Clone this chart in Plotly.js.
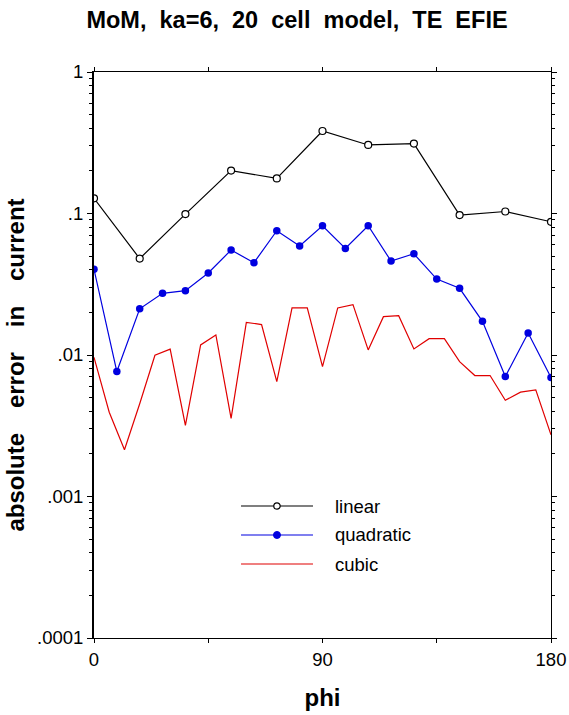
<!DOCTYPE html>
<html>
<head>
<meta charset="utf-8">
<script src="https://cdn.plot.ly/plotly-3.0.1.min.js"></script>
<style>html,body{margin:0;padding:0;background:#fff;}#chart{width:569px;height:715px;}</style>
</head>
<body>
<div id="chart"></div>
<script>
// ---- data ----
const phiLinear = [0, 18, 36, 54, 72, 90, 108, 126, 144, 162, 180];
const errLinear = [0.128, 0.048, 0.099, 0.201, 0.177, 0.383, 0.305, 0.312, 0.0974, 0.1033, 0.0874];

const phiQuadratic = [0, 9, 18, 27, 36, 45, 54, 63, 72, 81, 90, 99, 108, 117, 126, 135, 144, 153, 162, 171, 180];
const errQuadratic = [0.0403, 0.00764, 0.0212, 0.0273, 0.0285, 0.038, 0.0552, 0.0449, 0.0755, 0.0589, 0.0819,
                      0.0566, 0.0819, 0.0461, 0.0519, 0.0344, 0.0296, 0.0173, 0.00704, 0.0143, 0.00693];

const phiCubic = [0, 6, 12, 18, 24, 30, 36, 42, 48, 54, 60, 66, 72, 78, 84, 90,
                  96, 102, 108, 114, 120, 126, 132, 138, 144, 150, 156, 162, 168, 174, 180];
const errCubic = [0.00963, 0.00394, 0.00214, 0.00452, 0.00995, 0.0110, 0.00318, 0.01178, 0.01386, 0.00357,
                  0.01702, 0.0164, 0.00649, 0.0215, 0.0215, 0.00828, 0.0215, 0.0227, 0.01086, 0.01866,
                  0.01897, 0.01104, 0.01305, 0.01305, 0.00898, 0.00716, 0.00716, 0.00479, 0.00546, 0.00567, 0.00273];

const seriesNames = ['linear', 'quadratic', 'cubic'];
const xTickVals = [0, 45, 90, 135, 180];
const xTickText = ['0', '', '90', '', '180'];
const yTickVals = [0.0001, 0.001, 0.01, 0.1, 1];
const yTickText = ['.0001', '.001', '.01', '.1', '1'];
const yMinorVals = [];
[0.0001, 0.001, 0.01, 0.1].forEach(d => { for (let k = 2; k <= 9; k++) yMinorVals.push(d * k); });

const SP = '\u00a0';
const titleText = ['MoM,', 'ka=6,', '20', 'cell', 'model,', 'TE', 'EFIE'].join(' ' + SP);
const yTitleText = ['absolute', 'error', 'in', 'current'].join(' ' + SP + SP + '\u2009') + SP + SP + SP;

const FONT = 'Liberation Sans, Arial, Helvetica, sans-serif';

const traces = [
  {x: phiLinear, y: errLinear, name: seriesNames[0], type: 'scatter', mode: 'lines+markers',
   line: {color: '#000000', width: 1.2},
   marker: {symbol: 'circle', size: 7, color: '#ffffff', line: {color: '#000000', width: 1.2}}},
  {x: phiQuadratic, y: errQuadratic, name: seriesNames[1], type: 'scatter', mode: 'lines+markers',
   line: {color: '#0000e0', width: 1.2},
   marker: {symbol: 'circle', size: 7.5, color: '#0000e0'}},
  {x: phiCubic, y: errCubic, name: seriesNames[2], type: 'scatter', mode: 'lines', yaxis: 'y2',
   line: {color: '#e00000', width: 1.2}}
];

// legend (drawn as shapes + annotations to get the long sample lines)
const legRows = [0.2332, 0.182, 0.1307];
const legX0 = 0.3217, legX1 = 0.4792, legMid = 0.4004, legText = 0.523;
const legColors = ['#000000', '#0000e0', '#e00000'];
const shapes = [];
const annotations = [];
legRows.forEach((yy, i) => {
  shapes.push({type: 'line', xref: 'paper', yref: 'paper', x0: legX0, x1: legX1, y0: yy, y1: yy,
               line: {color: legColors[i], width: 1.2}});
  annotations.push({xref: 'paper', yref: 'paper', x: legText, y: yy, xanchor: 'left', yanchor: 'middle',
                    text: seriesNames[i], showarrow: false, font: {family: FONT, size: 18.5, color: '#000'}});
});
shapes.push({type: 'circle', xref: 'paper', yref: 'paper', xsizemode: 'pixel', ysizemode: 'pixel',
             xanchor: legMid, yanchor: legRows[0], x0: -3.2, x1: 3.2, y0: -3.2, y1: 3.2,
             fillcolor: '#ffffff', line: {color: '#000000', width: 1.2}});
shapes.push({type: 'circle', xref: 'paper', yref: 'paper', xsizemode: 'pixel', ysizemode: 'pixel',
             xanchor: legMid, yanchor: legRows[1], x0: -3.5, x1: 3.5, y0: -3.5, y1: 3.5,
             fillcolor: '#0000e0', line: {color: '#0000e0', width: 1}});

const yCommon = {
  type: 'log', range: [-4, 0], tickmode: 'array', tickvals: yTickVals,
  ticks: 'outside', ticklen: 5, tickwidth: 1, tickcolor: '#000',
  minor: {tickmode: 'array', tickvals: yMinorVals, ticks: 'outside', ticklen: 3, tickwidth: 1, tickcolor: '#000', showgrid: false},
  showgrid: false, zeroline: false, showline: true, linecolor: '#000'
};

const layout = {
  width: 569, height: 715,
  margin: {l: 94, r: 18, t: 72, b: 77},
  paper_bgcolor: '#ffffff', plot_bgcolor: '#ffffff',
  showlegend: false,
  font: {family: FONT, color: '#000'},
  title: {text: '<b>' + titleText + '</b>', font: {family: FONT, size: 23.5, color: '#000'},
          xref: 'container', yref: 'container', x: 0.522, y: 0.972, xanchor: 'center', yanchor: 'middle'},
  xaxis: {
    range: [0, 180], tickmode: 'array', tickvals: xTickVals, ticktext: xTickText,
    ticks: 'outside', ticklen: 4, tickwidth: 1, tickcolor: '#000',
    showgrid: false, zeroline: false, showline: true, linecolor: '#000', linewidth: 1.3, mirror: 'ticks',
    tickfont: {family: FONT, size: 18.5, color: '#000'},
    title: {text: '<b>phi</b>', font: {family: FONT, size: 24, color: '#000'}, standoff: 20}
  },
  yaxis: Object.assign({}, yCommon, {
    ticktext: yTickText, linewidth: 2, side: 'left',
    tickfont: {family: FONT, size: 18.5, color: '#000'},
    title: {text: '<b>' + yTitleText + '</b>', font: {family: FONT, size: 24, color: '#000'}, standoff: 6}
  }),
  yaxis2: Object.assign({}, yCommon, {
    overlaying: 'y', side: 'right', linewidth: 1, showticklabels: false
  }),
  shapes: shapes,
  annotations: annotations
};

Plotly.newPlot('chart', traces, layout, {staticPlot: true, displayModeBar: false});
</script>
</body>
</html>
